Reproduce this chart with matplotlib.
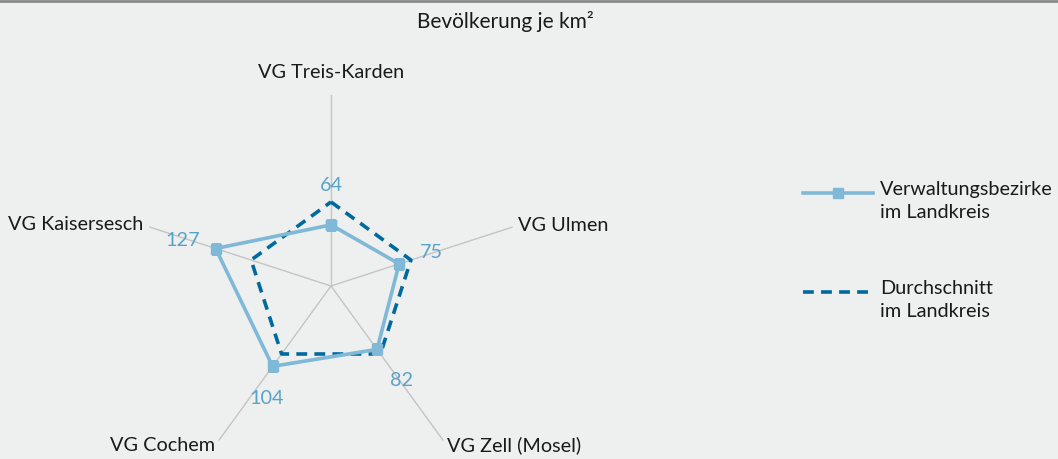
import numpy as np
import matplotlib
matplotlib.use("Agg")
import matplotlib.pyplot as plt
from matplotlib.lines import Line2D

plt.rcParams['font.family'] = ['Lato', 'DejaVu Sans']

# --- Daten ---
bezirke = ["VG Treis-Karden", "VG Ulmen", "VG Zell (Mosel)", "VG Cochem", "VG Kaisersesch"]
werte = [64, 75, 82, 104, 127]
durchschnitt = [88, 88, 88, 88, 88]
r_max = 200

BG = '#eeefef'
C_LIGHT = '#7fb9d7'
C_DARK = '#006a9c'
C_VAL = '#5aa3c8'
C_GRID = '#c4c4c4'
FS = 14.3

W, H = 1058, 459
fig = plt.figure(figsize=(W / 100, H / 100), dpi=100, facecolor=BG)

# Polarachse: Mittelpunkt (331, 286) px, Radius 191 px
cx, cy, rad = 331, 286, 191
ax = fig.add_axes([(cx - rad) / W, (H - cy - rad) / H, 2 * rad / W, 2 * rad / H], projection='polar')
ax.set_facecolor('none')
ax.set_theta_offset(np.pi / 2)
ax.set_theta_direction(-1)

n = len(bezirke)
theta = np.arange(n) * 2 * np.pi / n
tc = np.append(theta, theta[0])

ax.set_ylim(0, r_max)
ax.set_yticks([])
ax.set_xticks(theta)
ax.set_xticklabels([])
ax.xaxis.grid(True, color=C_GRID, lw=1)
ax.spines['polar'].set_visible(False)

ax.plot(tc, np.append(durchschnitt, durchschnitt[0]), color=C_DARK, lw=2.6, ls=(0, (3, 2)), zorder=3)
ax.plot(tc, np.append(werte, werte[0]), color=C_LIGHT, lw=2.6, marker='s', ms=7, zorder=4)

# Kategorienbeschriftung
lab_pos = [(224, 'center', 'center'), (206, 'left', 'center'), (206, 'left', 'center'),
           (206, 'right', 'center'), (207, 'right', 'center')]
for t, name, (r, ha, va) in zip(theta, bezirke, lab_pos):
    ax.text(t, r, name, ha=ha, va=va, fontsize=FS, color='#1a1a1a', clip_on=False)

# Werte (Versatz in Pixeln relativ zum Marker)
val_off = [(0, 39), (32, 11), (25, -31), (-6, -32), (-33, 8)]
for t, v, (dx, dy) in zip(theta, werte, val_off):
    ax.annotate(str(v), (t, v), xytext=(dx * 0.72, dy * 0.72), textcoords='offset points',
                ha='center', va='center', fontsize=FS, color=C_VAL, annotation_clip=False)

# Titel
fig.text(505 / W, 1 - 22 / H, "Bevölkerung je km²", ha='center', va='center', fontsize=15, color='#1a1a1a')
fig.add_artist(Line2D([0, 1], [1 - 1 / H, 1 - 1 / H], transform=fig.transFigure, color='#8a8a8a', lw=2))

# Legende
def px(x, y):
    return x / W, 1 - y / H

x0, x1 = 803, 873
y_a, y_b = 193, 292
fig.add_artist(Line2D([x0 / W, x1 / W], [px(0, y_a)[1]] * 2, transform=fig.transFigure, color=C_LIGHT, lw=2.6))
fig.add_artist(Line2D([(x0 + x1) / 2 / W], [px(0, y_a)[1]], transform=fig.transFigure, color=C_LIGHT, marker='s', ms=7, lw=0))
fig.add_artist(Line2D([x0 / W, x1 / W], [px(0, y_b)[1]] * 2, transform=fig.transFigure, color=C_DARK, lw=2.6, ls=(0, (3, 2))))
fig.text(*px(880, y_a - 12), "Verwaltungsbezirke\nim Landkreis", ha='left', va='top', fontsize=FS,
         color='#1a1a1a', linespacing=1.4, transform=fig.transFigure)
fig.text(*px(880, y_b - 12), "Durchschnitt\nim Landkreis", ha='left', va='top', fontsize=FS,
         color='#1a1a1a', linespacing=1.4, transform=fig.transFigure)

fig.savefig("out.png", dpi=100, facecolor=BG)
